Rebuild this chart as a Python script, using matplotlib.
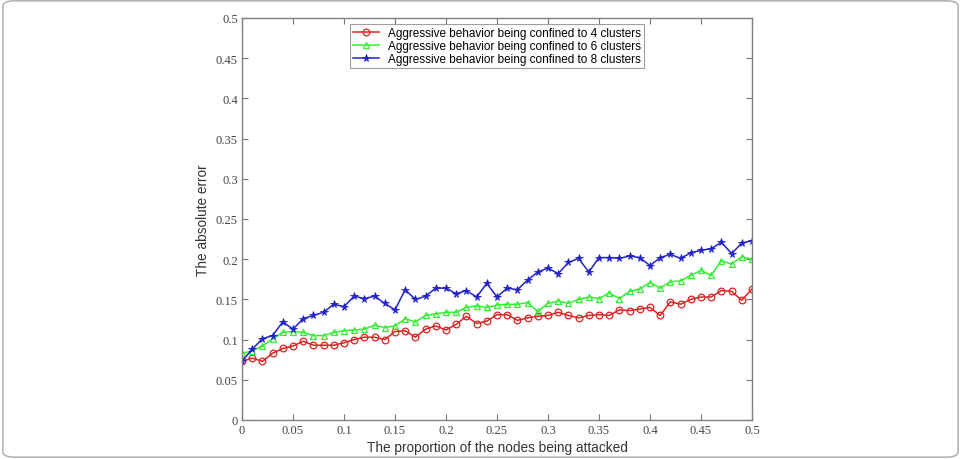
import matplotlib
matplotlib.use("Agg")
import matplotlib.pyplot as plt
from matplotlib.patches import FancyBboxPatch
import numpy as np

# data
x = np.round(np.arange(0, 0.501, 0.01), 2)

err4 = [0.073, 0.077, 0.073, 0.083, 0.089, 0.092, 0.098, 0.093, 0.093, 0.093,
        0.096, 0.100, 0.103, 0.103, 0.100, 0.110, 0.111, 0.103, 0.113, 0.117,
        0.112, 0.119, 0.129, 0.120, 0.123, 0.131, 0.131, 0.124, 0.127, 0.129,
        0.130, 0.134, 0.130, 0.127, 0.130, 0.131, 0.130, 0.137, 0.136, 0.138,
        0.140, 0.130, 0.147, 0.144, 0.150, 0.153, 0.153, 0.161, 0.160, 0.149,
        0.163]
err6 = [0.083, 0.086, 0.092, 0.101, 0.109, 0.110, 0.109, 0.105, 0.105, 0.109,
        0.111, 0.112, 0.113, 0.118, 0.115, 0.117, 0.126, 0.122, 0.130, 0.132,
        0.134, 0.134, 0.140, 0.142, 0.140, 0.143, 0.144, 0.144, 0.146, 0.135,
        0.145, 0.148, 0.145, 0.150, 0.153, 0.151, 0.158, 0.151, 0.160, 0.163,
        0.171, 0.164, 0.172, 0.173, 0.180, 0.186, 0.180, 0.198, 0.194, 0.203,
        0.200]
err8 = [0.073, 0.088, 0.101, 0.105, 0.122, 0.113, 0.126, 0.130, 0.134, 0.144,
        0.141, 0.154, 0.151, 0.154, 0.145, 0.137, 0.162, 0.150, 0.154, 0.164,
        0.164, 0.157, 0.161, 0.153, 0.170, 0.153, 0.164, 0.162, 0.174, 0.184,
        0.189, 0.182, 0.196, 0.201, 0.184, 0.202, 0.202, 0.201, 0.204, 0.202,
        0.192, 0.202, 0.206, 0.201, 0.208, 0.211, 0.213, 0.221, 0.207, 0.220,
        0.223]

labels = ["Aggressive behavior being confined to 4 clusters",
          "Aggressive behavior being confined to 6 clusters",
          "Aggressive behavior being confined to 8 clusters"]
ticklabels = ["0", "0.05", "0.1", "0.15", "0.2", "0.25", "0.3", "0.35", "0.4", "0.45", "0.5"]

fig = plt.figure(figsize=(9.61, 4.6), dpi=100)
# light rounded frame around the whole picture
fig.patches.append(FancyBboxPatch((0.003, 0.004), 0.994, 0.992,
                                  boxstyle="round,pad=0,rounding_size=0.012",
                                  transform=fig.transFigure, fill=False,
                                  edgecolor="#b5b5b5", linewidth=1.2))
ax = fig.add_axes([0.2518, 0.0848, 0.5307, 0.8739])

ax.plot(x, err4, "-o", color="#dd2222", mfc="none", mec="#dd2222", ms=4.8, lw=1.1, mew=0.9, label=labels[0])
ax.plot(x, err6, "-^", color="#33ee33", mfc="none", mec="#33ee33", ms=4.8, lw=1.1, mew=0.9, label=labels[1])
ax.plot(x, err8, "-*", color="#2222cc", mfc="#2222cc", mec="#2222cc", ms=5.5, lw=1.1, mew=0.6, label=labels[2])

ax.set_xlim(0, 0.5)
ax.set_ylim(0, 0.5)
ax.set_xticks(np.arange(0, 0.501, 0.05))
ax.set_yticks(np.arange(0, 0.501, 0.05))
ax.set_xticklabels(ticklabels)
ax.set_yticklabels(ticklabels)
ax.tick_params(direction="in", top=True, right=True, length=4, color="#777777",
               labelsize=9, labelcolor="#444444", pad=3)
for lab in ax.get_xticklabels() + ax.get_yticklabels():
    lab.set_family("Liberation Serif")
for s in ax.spines.values():
    s.set_color("#808080")
    s.set_linewidth(1.0)

ax.set_xlabel("The proportion of the nodes being attacked", family="Liberation Sans",
              fontsize=9.8, color="#333333", labelpad=3)
ax.set_ylabel("The absolute error", family="Liberation Sans", fontsize=9.8,
              color="#333333", labelpad=4)

leg = ax.legend(loc="upper center", bbox_to_anchor=(0.5, 0.985),
                prop={"family": "Liberation Sans", "size": 8.5}, frameon=True,
                fancybox=False, borderpad=0.25, labelspacing=0.1, handlelength=2.2,
                handletextpad=0.8, borderaxespad=0)
leg.get_frame().set_edgecolor("#888888")
leg.get_frame().set_linewidth(0.8)

fig.savefig("out.png", dpi=100)
